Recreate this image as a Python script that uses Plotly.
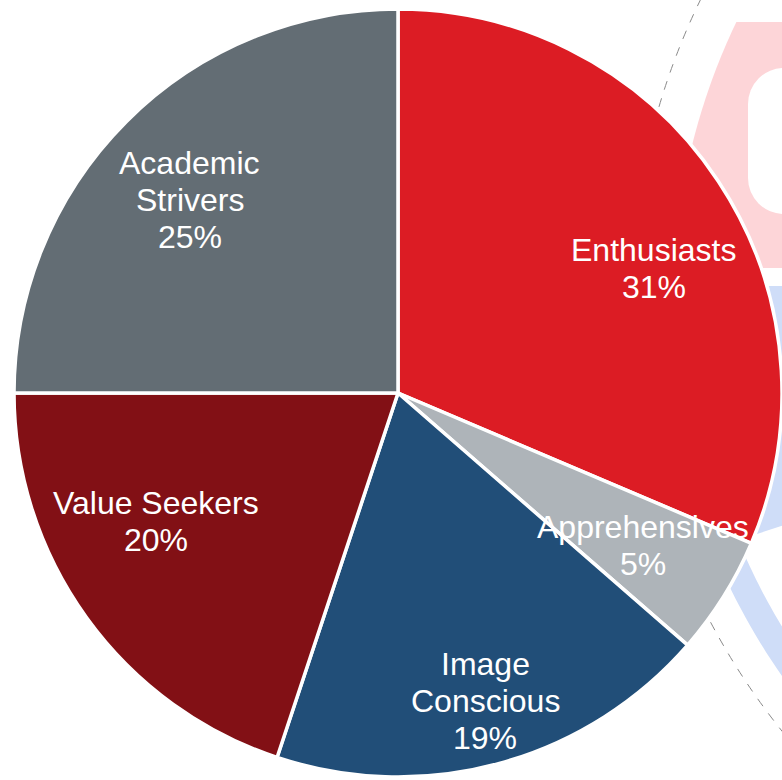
import numpy as np
import plotly.graph_objects as go

# segment data
segments = ["Enthusiasts", "Apprehensives", "Image Conscious", "Value Seekers", "Academic Strivers"]
label_lines = [["Enthusiasts"], ["Apprehensives"], ["Image", "Conscious"], ["Value Seekers"], ["Academic", "Strivers"]]
shares = [31.4, 5.0, 18.7, 19.9, 25.0]
colors = ["#DC1C24", "#AEB4B9", "#214E78", "#821015", "#636D74"]

# label placement tweaks (px), like excel's "best fit"
label_nudge = [(17, 33), (2, 1), (11, 33), (-12, -38), (-8, 8)]

W, H = 782, 780
CX, CY, R = 399, 393, 385  # pie centre / radius in pixels
FONT = "Liberation Sans, Arial, sans-serif"
FS = 32
LINE_H = 37


def px(x, y):
    return x / W, 1 - y / H


def path_from(points):
    pts = [px(x, y) for x, y in points]
    return "M " + " L ".join(f"{a:.5f},{b:.5f}" for a, b in pts) + " Z"


x0d, y1d = px(CX - R, CY - R)
x1d, y0d = px(CX + R, CY + R)

fig = go.Figure()
fig.add_trace(go.Pie(
    labels=segments, values=shares, sort=False, direction="clockwise", rotation=0,
    marker=dict(colors=colors, line=dict(color="white", width=3.5)),
    textinfo="none", hoverinfo="label+percent", showlegend=False,
    domain=dict(x=[max(x0d, 0), min(x1d, 1)], y=[max(y0d, 0), min(y1d, 1)]),
))

# labels, placed from the slice mid angles
total = sum(shares)
cum = np.cumsum([0] + shares)
annotations = []
for i, lines in enumerate(label_lines):
    mid = (cum[i] + shares[i] / 2) / total * 2 * np.pi
    lx = CX + 0.74 * R * np.sin(mid) + label_nudge[i][0]
    ly = CY - 0.74 * R * np.cos(mid) + label_nudge[i][1]
    texts = lines + [f"{round(shares[i] / total * 100)}%"]
    n = len(texts)
    for j, t in enumerate(texts):
        yy = ly + (j - (n - 1) / 2) * LINE_H
        ax, ay = px(lx, yy)
        annotations.append(dict(x=ax, y=ay, xref="paper", yref="paper", text=t, showarrow=False,
                                xanchor="center", yanchor="middle",
                                font=dict(family=FONT, size=FS, color="white")))

# faint logo watermark behind the pie
LX, LY = 1319, 301
shapes = []


def arc(r, y_from, y_to, n=60):
    ys = np.linspace(y_from, y_to, n)
    return [(LX - np.sqrt(max(r * r - (y - LY) ** 2, 0)), y) for y in ys]


def rect(xa, ya, xb, yb, **kw):
    (a, d), (c, b) = px(xa, ya), px(xb, yb)
    return dict(x0=a, x1=c, y0=b, y1=d, xref="paper", yref="paper", layer="below", **kw)


pink_c = "#FDD5D8"
pink = [(800, 22)] + arc(646, 22, 268) + [(800, 268)]
shapes.append(dict(type="path", path=path_from(pink), xref="paper", yref="paper",
                   fillcolor=pink_c, line=dict(width=0), layer="below"))
# white letter, rounded on its left side
rc = 36
shapes.append(rect(748, 68, 900, 214, type="rect", fillcolor="white", line=dict(width=0)))
for cy_ in (68 + rc, 214 - rc):
    ya = 68 if cy_ < 141 else 214 - rc
    shapes.append(rect(748, ya, 748 + rc, ya + rc, type="rect", fillcolor=pink_c, line=dict(width=0)))
    shapes.append(rect(748, cy_ - rc, 748 + 2 * rc, cy_ + rc, type="circle", fillcolor="white", line=dict(width=0)))

blue = [(800, 286)] + arc(655, 286, 800) + arc(628, 800, 540) + [(800, 520)]
shapes.append(dict(type="path", path=path_from(blue), xref="paper", yref="paper",
                   fillcolor="#CFDDF8", line=dict(width=0), layer="below"))
shapes.append(rect(LX - 688, LY - 688, LX + 688, LY + 688, type="circle",
                   line=dict(color="#8A8A8A", width=1, dash="dash")))

fig.update_layout(
    width=W, height=H, margin=dict(l=0, r=0, t=0, b=0),
    paper_bgcolor="white", plot_bgcolor="white",
    annotations=annotations, shapes=shapes,
)
fig.write_html("out.html", config={"displayModeBar": False},
               post_script="document.body.style.margin='0';document.body.style.overflow='hidden';")
